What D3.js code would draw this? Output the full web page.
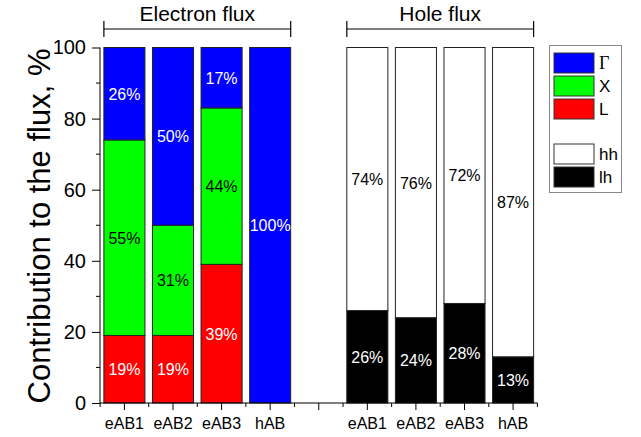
<!DOCTYPE html>
<html><head><meta charset="utf-8">
<script src="https://cdn.jsdelivr.net/npm/d3@7"></script>
<style>
body{margin:0;background:#fff;}
text{font-family:Arial,"Liberation Sans",sans-serif;}
</style></head>
<body><svg id="c" width="641" height="437"></svg>
<script>
// ---- data ----
const structures = ["eAB1","eAB2","eAB3","hAB"];
const electronL     = [19, 19, 39, 0];
const electronX     = [55, 31, 44, 0];
const electronGamma = [26, 50, 17, 100];
const holeLh = [26, 24, 28, 13];
const holeHh = [74, 76, 72, 87];
const yTicks = [0, 20, 40, 60, 80, 100];
const groupTitles = ["Electron flux", "Hole flux"];
const legendElectron = ["Γ","X","L"];
const legendHole = ["hh","lh"];
const colors = {Gamma:"#0000ff", X:"#00ff00", L:"#ff0000", hh:"#ffffff", lh:"#000000"};

const slots = [...structures.map(s=>"e:"+s), "gap", ...structures.map(s=>"h:"+s)];

const svg = d3.select("#c");
const x = d3.scaleBand().domain(slots).range([100, 537.5]).paddingInner(0.155).paddingOuter(0.08);
const y = d3.scaleLinear().domain([0,100]).range([403, 47.5]);

// build segments
const segs = [];
structures.forEach((s,i)=>{
  let base = 0;
  [["L",electronL[i],"#fff"],["X",electronX[i],"#000"],["Gamma",electronGamma[i],"#fff"]].forEach(([k,v,tc])=>{
    if(v>0) segs.push({slot:"e:"+s, y0:base, y1:base+v, color:colors[k], v, tc});
    base += v;
  });
  base = 0;
  [["lh",holeLh[i],"#fff"],["hh",holeHh[i],"#000"]].forEach(([k,v,tc])=>{
    segs.push({slot:"h:"+s, y0:base, y1:base+v, color:colors[k], v, tc});
    base += v;
  });
});

const bw = x.bandwidth();
svg.append("g").selectAll("rect").data(segs).join("rect")
  .attr("x", d=>x(d.slot)).attr("width", bw)
  .attr("y", d=>y(d.y1)).attr("height", d=>y(d.y0)-y(d.y1))
  .attr("fill", d=>d.color).attr("stroke","#222").attr("stroke-width",1);

svg.append("g").selectAll("text").data(segs).join("text")
  .attr("x", d=>x(d.slot)+bw/2).attr("y", d=>y((d.y0+d.y1)/2)+6)
  .attr("text-anchor","middle").attr("font-size",16).attr("fill",d=>d.tc)
  .text(d=>d.v+"%");

// y axis
const ya = svg.append("g").attr("transform","translate(100,0)")
  .call(d3.axisLeft(y).tickValues(yTicks).tickSize(8).tickPadding(6));
ya.selectAll("text").attr("font-size",20).attr("fill","#000").style("font-family","Arial");
ya.select(".domain").attr("d","M0,"+y(100)+"V"+y(0));
ya.append("g").selectAll("line").data(d3.range(10,100,20)).join("line")
  .attr("x1",-4).attr("x2",0).attr("y1",d=>y(d)).attr("y2",d=>y(d)).attr("stroke","#000");

// x axis
const xa = svg.append("g").attr("transform","translate(0,403)")
  .call(d3.axisBottom(x).tickSize(7).tickPadding(8).tickFormat(d=>d==="gap"?"":d.split(":")[1]));
xa.selectAll("text").attr("font-size",16).attr("fill","#000").style("font-family","Arial");
xa.select(".domain").attr("d","M100,0H537.5");
const minor = slots.map(s=>x(s)-x.step()*x.paddingInner()/2).concat([x(slots[slots.length-1])+bw+x.step()*x.paddingInner()/2]);
xa.append("g").selectAll("line").data(minor).join("line")
  .attr("x1",d=>d).attr("x2",d=>d).attr("y1",0).attr("y2",4).attr("stroke","#000");

// y title
svg.append("text").attr("transform","translate(50,226) rotate(-90)")
  .attr("text-anchor","middle").attr("font-size",31).text("Contribution to the flux, %");

// group brackets
const groups = [
  [x("e:eAB1"), x("e:hAB")+bw],
  [x("h:eAB1"), x("h:hAB")+bw]
];
groups.forEach(([a,b],i)=>{
  const g = svg.append("g").attr("stroke","#000").attr("stroke-width",1.2);
  g.append("line").attr("x1",a).attr("x2",b).attr("y1",29).attr("y2",29);
  g.append("line").attr("x1",a).attr("x2",a).attr("y1",21).attr("y2",37);
  g.append("line").attr("x1",b).attr("x2",b).attr("y1",21).attr("y2",37);
  svg.append("text").attr("x",(a+b)/2).attr("y",21).attr("text-anchor","middle")
    .attr("font-size",21).text(groupTitles[i]);
});

// legend
const lg = svg.append("g");
lg.append("rect").attr("x",549.5).attr("y",45.5).attr("width",72).attr("height",147)
  .attr("fill","#fff").attr("stroke","#888");
const items = [
  {label:legendElectron[0], c:colors.Gamma, y:53, serif:true},
  {label:legendElectron[1], c:colors.X, y:76},
  {label:legendElectron[2], c:colors.L, y:99},
  {label:legendHole[0], c:colors.hh, y:144},
  {label:legendHole[1], c:colors.lh, y:167}
];
items.forEach(it=>{
  lg.append("rect").attr("x",554).attr("y",it.y).attr("width",40).attr("height",20)
    .attr("fill",it.c).attr("stroke","#333");
  const t = lg.append("text").attr("x",599).attr("y",it.y+16).attr("font-size",17).text(it.label);
  if(it.serif) t.style("font-family","'Liberation Serif','Times New Roman',serif").attr("font-size",18);
});
</script></body></html>
